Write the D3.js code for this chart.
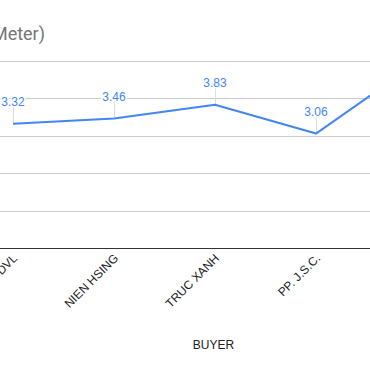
<!DOCTYPE html>
<html>
<head>
<meta charset="utf-8">
<script src="https://cdn.jsdelivr.net/npm/d3@7"></script>
<style>
	body { margin: 0; background: #fff; }
	svg { display: block; }
</style>
</head>
<body>
<div id="chart"></div>
<script>
// data (the last buyer sits just past the right edge)
const buyers = ['CTY DVL', 'NIEN HSING', 'TRUC XANH', 'PP. J.S.C.', 'OTHER']
const prices = [3.32, 3.46, 3.83, 3.06, 4.95]
const yTicks = [0, 1, 2, 3, 4, 5]
const chartTitle = 'Average Price (USD/Meter)'
const axisTitle = 'BUYER'

const width = 370
const height = 371

const svg = d3.select('#chart')
	.append('svg')
	.attr('width', width)
	.attr('height', height)

const xScale = d3.scalePoint()
	.domain(buyers)
	.range([13, 417])

const yScale = d3.scaleLinear()
	.domain([0, 5])
	.range([248, 61])

// title, only its tail is inside the frame
svg.append('text')
	.attr('x', 45)
	.attr('y', 40)
	.attr('text-anchor', 'end')
	.attr('font-family', 'Roboto, Arial, sans-serif')
	.attr('font-size', 18)
	.attr('fill', '#757575')
	.text(chartTitle)

// gridlines
svg.append('g')
	.selectAll('line')
	.data(yTicks)
	.join('line')
	.attr('x1', 0)
	.attr('x2', width)
	.attr('y1', d => Math.round(yScale(d)) + 0.5)
	.attr('y2', d => Math.round(yScale(d)) + 0.5)
	.attr('stroke', d => d === 0 ? '#333' : '#ccc')
	.attr('stroke-width', 1)

// x labels
svg.append('g')
	.selectAll('text')
	.data(buyers)
	.join('text')
	.attr('transform', d => 'translate(' + (xScale(d) + 5) + ',259) rotate(-45)')
	.attr('text-anchor', 'end')
	.attr('font-family', 'Arial, "Liberation Sans", sans-serif')
	.attr('font-size', 12)
	.attr('fill', '#222')
	.text(d => d)

svg.append('text')
	.attr('x', 213.5)
	.attr('y', 349)
	.attr('text-anchor', 'middle')
	.attr('font-family', 'Arial, "Liberation Sans", sans-serif')
	.attr('font-size', 12)
	.attr('fill', '#222')
	.text(axisTitle)

const points = buyers.map((b, i) => ({ name: b, value: prices[i] }))

// annotation stems
svg.append('g')
	.selectAll('line')
	.data(points)
	.join('line')
	.attr('x1', d => Math.round(xScale(d.name)) + 0.5)
	.attr('x2', d => Math.round(xScale(d.name)) + 0.5)
	.attr('y1', d => yScale(d.value) - 17)
	.attr('y2', d => yScale(d.value))
	.attr('stroke', '#ddd')
	.attr('stroke-width', 1)

const line = d3.line()
	.x(d => xScale(d.name))
	.y(d => yScale(d.value))

svg.append('path')
	.datum(points)
	.attr('d', line)
	.attr('fill', 'none')
	.attr('stroke', '#4285f4')
	.attr('stroke-width', 2)
	.attr('stroke-linejoin', 'round')

// value labels with a white halo over the gridlines
svg.append('g')
	.selectAll('text')
	.data(points)
	.join('text')
	.attr('x', d => xScale(d.name))
	.attr('y', d => yScale(d.value) - 18)
	.attr('text-anchor', 'middle')
	.attr('font-family', 'Arial, "Liberation Sans", sans-serif')
	.attr('font-size', 12)
	.attr('fill', '#4285f4')
	.attr('stroke', '#fff')
	.attr('stroke-width', 3)
	.attr('paint-order', 'stroke')
	.text(d => d.value.toFixed(2))
</script>
</body>
</html>
